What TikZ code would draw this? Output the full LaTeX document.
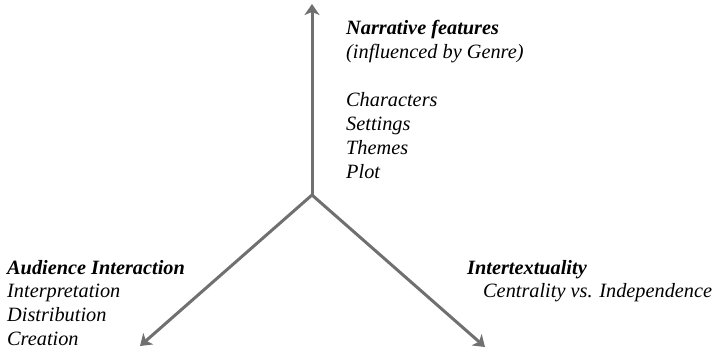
\documentclass[tikz,border=0pt]{standalone}
\usepackage{fontspec}
\setmainfont{Liberation Serif}
\newfontfamily\labelfont{Liberation Serif}
\usetikzlibrary{positioning,arrows.meta}
\definecolor{axisgray}{HTML}{707070}

\begin{document}
\begin{tikzpicture}[x=1pt, y=-1pt, font=\labelfont\fontsize{20.3}{24}\selectfont\itshape,
		axis/.style={draw=axisgray, line width=3pt, -{Stealth[length=11pt, width=15pt, inset=3pt]}},
		head/.style={font=\labelfont\fontsize{20.3}{24}\selectfont\bfseries\itshape, anchor=base west, inner sep=0pt},
		items/.style={align=left, anchor=north west, inner sep=0pt}]
		\useasboundingbox (0,0) rectangle (714,352);
		\coordinate (hub) at (312,195);
		\coordinate (narr tip) at (312,4);
		\coordinate (aud tip) at (140,346);
		\coordinate (int tip) at (485,347);
		\draw[axis] (hub) -- (narr tip);
		\draw[axis] (hub) -- (aud tip);
		\draw[axis] (hub) -- (int tip);
		\node[head] (narr) at (346,35) {Narrative features};
		\node[items] (narr list) at (346,44.3) {(influenced by Genre)\\[24pt]Characters\\Settings\\Themes\\Plot};
		\node[head] (aud) at (7,275) {Audience Interaction};
		\node[items] (aud list) at (7,284.3) {Interpretation\\Distribution\\Creation};
		\node[head] (int) at (467,275) {Intertextuality};
		\node[anchor=base west, inner sep=0pt] (int list) at (483,298) {Centrality vs. Independence};
	\end{tikzpicture}
\end{document}
